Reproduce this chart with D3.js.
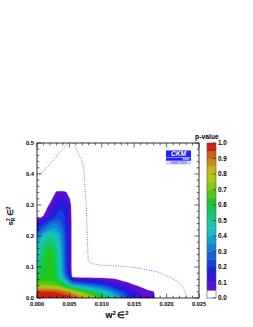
<!DOCTYPE html>
<html><head><meta charset="utf-8">
<script src="https://cdn.jsdelivr.net/npm/d3@7"></script>
<style>body{margin:0;background:#fff}svg{display:block}</style>
</head><body>
<script>
// ---- data ----
const xGrid = [0,0.0005,0.001,0.0015,0.002,0.0025,0.003,0.0035,0.004,0.0045,0.005,0.0055,
  0.006,0.007,0.008,0.009,0.010,0.011,0.012,0.013,0.014,0.015,0.016,0.017,0.018,0.019];
const yGrid = [0,0.01,0.02,0.03,0.04,0.05,0.06,0.07,0.08,0.10,0.12,0.14,0.16,0.18,0.20,0.22,0.24,0.26,0.28,0.30,0.32,0.34,0.36];
const Z14 = [0,0,0,0,0,0,0,0,0,0,0,0,0,0];
const pValues = [
 [.98,.99,.99,.99,.99,.99,.99,.985,.98,.975,.97,.96, .93,.87,.80,.72,.62,.54,.45,.33,.22,.14,.11,.08,.058,0],
 [.97,.975,.975,.975,.975,.97,.97,.965,.96,.95,.94,.91, .87,.80,.72,.64,.55,.47,.38,.29,.20,.13,.10,.075,.056,0],
 [.955,.955,.955,.955,.95,.95,.945,.935,.92,.89,.86,.80, .74,.68,.60,.53,.46,.38,.30,.23,.17,.11,.085,.065,.052,0],
 [.86,.86,.86,.85,.85,.84,.83,.80,.76,.72,.67,.62, .56,.50,.45,.40,.35,.29,.22,.17,.13,.09,.065,.04,0,0],
 [.73,.73,.73,.72,.72,.71,.70,.67,.62,.56,.50,.44, .40,.36,.32,.28,.25,.20,.15,.12,.09,.06,.03,0,0,0],
 [.65,.66,.66,.66,.66,.66,.64,.60,.53,.45,.36,.28, .25,.22,.20,.18,.16,.13,.10,.075,.052,0,0,0,0,0],
 [.60,.63,.64,.64,.64,.63,.60,.54,.46,.36,.25,.15, .12,.11,.10,.09,.085,.07,.06,.03,0,0,0,0,0,0],
 [.56,.60,.62,.63,.63,.62,.57,.49,.39,.28,.18,0].concat(Z14),
 [.53,.58,.61,.62,.63,.61,.56,.47,.36,.24,.14,0].concat(Z14),
 [.50,.56,.60,.62,.63,.61,.56,.46,.34,.22,.12,0].concat(Z14),
 [.47,.54,.59,.62,.63,.60,.55,.45,.33,.21,.12,0].concat(Z14),
 [.44,.52,.58,.61,.62,.60,.53,.44,.33,.21,.12,0].concat(Z14),
 [.40,.48,.55,.58,.60,.57,.50,.42,.32,.21,.12,0].concat(Z14),
 [.36,.43,.50,.54,.55,.53,.47,.40,.31,.20,.12,0].concat(Z14),
 [.30,.37,.43,.48,.50,.48,.44,.38,.30,.20,.12,0].concat(Z14),
 [.20,.25,.30,.33,.36,.37,.36,.33,.27,.19,.12,0].concat(Z14),
 [.12,.16,.20,.24,.28,.30,.30,.28,.24,.17,.12,0].concat(Z14),
 [.04,.045,.06,.10,.15,.19,.22,.24,.23,.18,.11,0].concat(Z14),
 [0,0,.02,.06,.10,.14,.18,.21,.20,.16,.10,0].concat(Z14),
 [0,0,.01,.03,.06,.10,.14,.17,.17,.14,.09,0].concat(Z14),
 [0,0,0,.01,.02,.06,.10,.12,.12,.10,.055,0].concat(Z14),
 [0,0,0,0,0,.02,.06,.065,.065,.055,0,0].concat(Z14),
 [0,0,0,0,0,0,0,0,0,0,0,0].concat(Z14)
];
const levels = [0.05,0.10,0.15,0.20,0.25,0.30,0.35,0.40,0.45,0.50,0.55,0.60,0.65,0.70,0.75,0.80,0.85,0.90,0.95];
const dotSeg1 = [[0,0.400],[0.0007,0.402],[0.0048,0.500]];
const dotSeg2 = [[0.0056,0.500],[0.0058,0.492],[0.0069,0.445],[0.0072,0.420],[0.0076,0.300],[0.0079,0.120],
  [0.0082,0.112],[0.0097,0.106],[0.0128,0.103],[0.0149,0.099],[0.0185,0.085],[0.0205,0.067],
  [0.0218,0.052],[0.0225,0.035],[0.0229,0.018],[0.0231,0.0]];
const xTicks = [0,0.005,0.010,0.015,0.020,0.025];
const xTickLabels = ["0.000","0.005","0.010","0.015","0.020","0.025"];
const yTicks = [0,0.1,0.2,0.3,0.4,0.5];
const yTickLabels = ["0.0","0.1","0.2","0.3","0.4","0.5"];
const zTicks = [0,0.1,0.2,0.3,0.4,0.5,0.6,0.7,0.8,0.9,1.0];
const zTickLabels = ["0.0","0.1","0.2","0.3","0.4","0.5","0.6","0.7","0.8","0.9","1.0"];

// ---- palette (band lower edge -> colour) ----
const bandColors = ["#5a0fd2","#3c14d7","#1e1edc","#1440dc","#1464d7","#1482d2","#14a0d2","#14bec8","#14c8aa",
  "#14c882","#14c850","#1ec81e","#50c814","#82c814","#aac814","#c8b414","#c88c14","#c86414","#d21e14"];

const W=253,H=327;
const svg = d3.select("body").append("svg").attr("width",W).attr("height",H)
  .style("font-family","Liberation Sans, Arial, sans-serif");
const L=37,R=199,T=143,B=298;
const sx = d3.scaleLinear().domain([0,0.025]).range([L,R]);
const sy = d3.scaleLinear().domain([0,0.5]).range([B,T]);

svg.append("defs").append("clipPath").attr("id","clip").append("rect")
  .attr("x",L).attr("y",T).attr("width",R-L).attr("height",B-T);

// contours
const nx=xGrid.length, ny=yGrid.length;
const flat=[]; pValues.forEach(r=>r.forEach(v=>flat.push(v)));
const ix = d3.scaleLinear().domain(d3.range(nx)).range(xGrid).clamp(true);
const iy = d3.scaleLinear().domain(d3.range(ny)).range(yGrid).clamp(true);
const proj = d3.geoTransform({point(x,y){ this.stream.point(sx(ix(x-0.5)), sy(iy(y-0.5))); }});
const path = d3.geoPath(proj);
const conts = d3.contours().size([nx,ny]).thresholds(levels)(flat);
const g = svg.append("g").attr("clip-path","url(#clip)");
g.selectAll("path.c").data(conts).join("path").attr("class","c")
  .attr("d",path).attr("fill",(d,i)=>bandColors[i]).attr("stroke",(d,i)=>bandColors[i]).attr("stroke-width",0.3);

// dotted contour
const line = d3.line().x(d=>sx(d[0])).y(d=>sy(d[1]));
[dotSeg1,dotSeg2].forEach(s=>g.append("path").attr("d",line(s)).attr("fill","none")
  .attr("stroke","#5050e0").attr("stroke-width",0.8).attr("stroke-dasharray","1,1.4"));

// frame
svg.append("rect").attr("x",L).attr("y",T).attr("width",R-L).attr("height",B-T)
  .attr("fill","none").attr("stroke","#000").attr("stroke-width",0.8);

// ticks
const tk = svg.append("g").attr("stroke","#000").attr("stroke-width",0.6);
d3.range(0,0.02501,0.001).forEach((v,i)=>{
  const major = i%5===0, len = major?4.5:2.3, x=sx(v);
  tk.append("line").attr("x1",x).attr("x2",x).attr("y1",B).attr("y2",B-len);
  tk.append("line").attr("x1",x).attr("x2",x).attr("y1",T).attr("y2",T+len);
});
d3.range(0,0.5001,0.02).forEach((v,i)=>{
  const major = i%5===0, len = major?4.5:2.3, y=sy(v);
  tk.append("line").attr("x1",L).attr("x2",L+len).attr("y1",y).attr("y2",y);
  tk.append("line").attr("x1",R).attr("x2",R-len).attr("y1",y).attr("y2",y);
});
const xAxisL = svg.append("g").attr("font-size",5.6).attr("font-weight","bold").attr("text-anchor","middle");
xTicks.forEach((v,i)=>xAxisL.append("text").attr("x",sx(v)).attr("y",B+8).text(xTickLabels[i]));
const yAxisL = svg.append("g").attr("font-size",5.8).attr("font-weight","bold").attr("text-anchor","end");
yTicks.forEach((v,i)=>yAxisL.append("text").attr("x",L-3).attr("y",sy(v)+2).text(yTickLabels[i]));

// axis titles
const xt = svg.append("text").attr("x",117).attr("y",318).attr("text-anchor","middle")
  .attr("font-size",9).attr("font-weight","bold");
xt.append("tspan").text("w");
xt.append("tspan").attr("font-size",6).attr("dy",-3.5).text("2");
xt.append("tspan").attr("dy",3.5).attr("dx",1.5).text("\u2208");
xt.append("tspan").attr("font-size",6).attr("dy",-3.5).text("2");
const yt = svg.append("text").attr("transform","translate(13,216) rotate(-90)").attr("text-anchor","middle")
  .attr("font-size",8).attr("font-weight","bold");
yt.append("tspan").text("s");
yt.append("tspan").attr("font-size",5).attr("dy",-3).text("2");
yt.append("tspan").attr("font-size",5).attr("dy",5).attr("dx",-3).text("R");
yt.append("tspan").attr("dy",-2).attr("dx",1.5).text("\u2208");
yt.append("tspan").attr("font-size",5).attr("dy",-3).text("2");

// colour bar
const CL=207,CR=216;
const sz = d3.scaleLinear().domain([0,1]).range([B,T]);
svg.append("rect").attr("x",CL).attr("y",sz(0.05)).attr("width",CR-CL).attr("height",sz(0)-sz(0.05)).attr("fill","#fff");
levels.forEach((lv,i)=>{
  svg.append("rect").attr("x",CL).attr("y",sz(lv+0.05)).attr("width",CR-CL)
    .attr("height",sz(lv)-sz(lv+0.05)+0.3).attr("fill",bandColors[i]);
});
svg.append("rect").attr("x",CL).attr("y",T).attr("width",CR-CL).attr("height",B-T)
  .attr("fill","none").attr("stroke","#555").attr("stroke-width",0.6);
const zt = svg.append("g");
zTicks.forEach((v,i)=>{
  zt.append("line").attr("x1",CR-3.5).attr("x2",CR).attr("y1",sz(v)).attr("y2",sz(v)).attr("stroke","#333").attr("stroke-width",0.7);
  zt.append("text").attr("x",CR+2).attr("y",sz(v)+2.3).attr("font-size",6.3).attr("font-weight","bold").text(zTickLabels[i]);
});
svg.append("text").attr("x",207).attr("y",139).attr("text-anchor","middle").attr("font-size",6.8)
  .attr("font-weight","bold").text("p-value");

// logo
svg.append("rect").attr("x",166).attr("y",150.5).attr("width",25).attr("height",6.5).attr("fill","#1e1eff");
svg.append("text").attr("x",178.5).attr("y",156.3).attr("text-anchor","middle").attr("font-size",6.5)
  .attr("font-style","italic").attr("font-weight","bold").attr("fill","#fff").text("CKM");
svg.append("rect").attr("x",166).attr("y",157.5).attr("width",25).attr("height",3.2).attr("fill","#1e1eff");
svg.append("text").attr("x",186).attr("y",160.4).attr("text-anchor","middle").attr("font-size",3.2)
  .attr("font-weight","bold").attr("fill","#fff").text("fitter");
svg.append("rect").attr("x",166).attr("y",161.2).attr("width",25).attr("height",3.5).attr("fill","#d4d4ff");
svg.append("text").attr("x",178.5).attr("y",164.2).attr("text-anchor","middle").attr("font-size",3)
  .attr("fill","#3030ff").text("LHMO 2009");
</script>
</body></html>
